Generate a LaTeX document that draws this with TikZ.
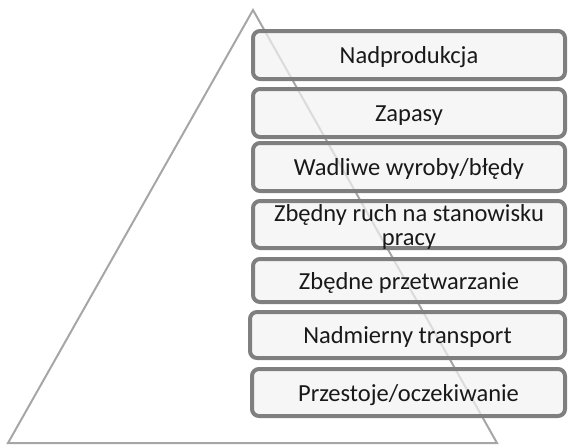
\documentclass[tikz,border=0pt]{standalone}
\usepackage{fontspec}
\setmainfont{Carlito}
\definecolor{boxfill}{HTML}{F2F2F2}
\definecolor{boxline}{HTML}{7F7F7F}
\definecolor{triline}{HTML}{A6A6A6}
\begin{document}
\begin{tikzpicture}[x=1pt,y=-1pt,
  wastebox/.style={draw=boxline,line width=4pt,fill=boxfill,fill opacity=0.7,text opacity=1,
    rounded corners=7pt},
  wastelabel/.style={font=\fontsize{24.5}{23}\selectfont,text=black!90,align=center,inner sep=0pt,anchor=base},
  twolinelabel/.style={font=\fontsize{24.5}{23.5}\selectfont,text=black!90,align=center,inner sep=0pt}]
\useasboundingbox (0,0) rectangle (568,445);
\coordinate (apex) at (253,10);
\coordinate (bl) at (8,443);
\coordinate (br) at (497,443);
\draw[triline,line width=2pt,line join=miter] (bl) -- (apex) -- (br) -- cycle;
\foreach \n/\l/\t/\b in {1/253/31/79,2/253/89/137,3/253/143/191,4/253/201/248,5/253/259/302,6/250/312/358,7/252/369/416}{
  \path[wastebox] (\l,\t) rectangle (565,\b);
  \coordinate (c\n) at ({(\l+565)/2},{(\t+\b)/2});
}
\node[wastelabel] (n1) at ([yshift=-8.5pt]c1) {Nadprodukcja};
\node[wastelabel] (n2) at ([yshift=-8.5pt]c2) {Zapasy};
\node[wastelabel] (n3) at ([yshift=-8.5pt]c3) {Wadliwe wyroby/błędy};
\node[twolinelabel] (n4) at ([yshift=-2.5pt]c4) {Zbędny ruch na stanowisku\\pracy};
\node[wastelabel] (n5) at ([yshift=-8.5pt]c5) {Zbędne przetwarzanie};
\node[wastelabel] (n6) at ([yshift=-8.5pt]c6) {Nadmierny transport};
\node[wastelabel] (n7) at ([yshift=-8.5pt]c7) {Przestoje/oczekiwanie};
\end{tikzpicture}
\end{document}
